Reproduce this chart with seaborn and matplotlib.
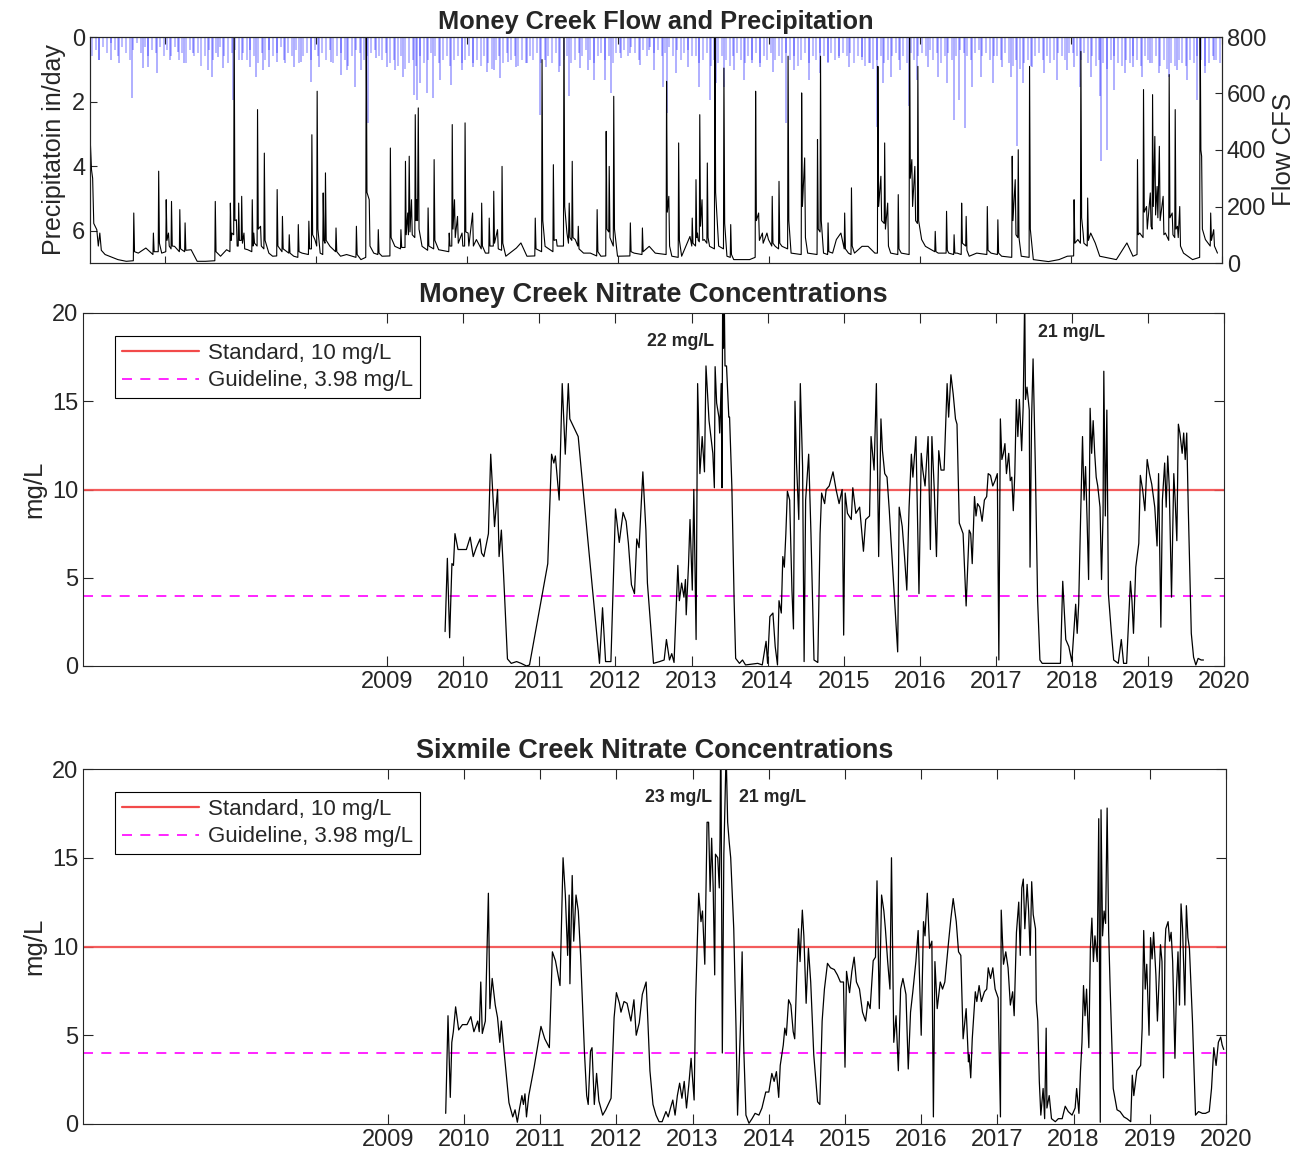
import numpy as np
import pandas as pd
import matplotlib
matplotlib.use("Agg")
import matplotlib.pyplot as plt
import seaborn as sns
from matplotlib.lines import Line2D

sns.set_style("ticks")
plt.rcParams['font.family'] = ['Liberation Sans', 'DejaVu Sans']

# ---- Money Creek daily flow (decimal year, cfs) ----
flow_pts = [
    (2005.00, 454), (2005.02, 330), (2005.035, 300), (2005.05, 140), (2005.09, 118), (2005.11, 60),
    (2005.13, 106), (2005.15, 45), (2005.20, 30), (2005.37, 12), (2005.48, 6),
    (2005.574, 8), (2005.58, 177), (2005.59, 40), (2005.64, 35), (2005.74, 53), (2005.834, 30),
    (2005.84, 106), (2005.85, 40), (2005.904, 40), (2005.91, 325), (2005.92, 70), (2005.95, 35),
    (2006.004, 40), (2006.01, 224), (2006.02, 80), (2006.04, 106), (2006.05, 60), (2006.074, 50),
    (2006.08, 218), (2006.09, 60), (2006.12, 59), (2006.184, 40), (2006.19, 189), (2006.20, 50),
    (2006.254, 40), (2006.26, 142), (2006.27, 45), (2006.34, 47), (2006.42, 6), (2006.53, 6),
    (2006.654, 8), (2006.66, 218), (2006.67, 40), (2006.73, 24), (2006.81, 47), (2006.854, 40),
    (2006.86, 212), (2006.87, 80), (2006.88, 106), (2006.904, 100), (2006.91, 900), (2006.92, 150),
    (2006.94, 153), (2006.95, 60), (2006.964, 60), (2006.97, 212), (2006.98, 80), (2007.004, 80),
    (2007.01, 236), (2007.02, 70), (2007.04, 106), (2007.05, 50), (2007.09, 47),
    (2007.144, 40), (2007.15, 224), (2007.16, 60), (2007.17, 106), (2007.18, 70), (2007.214, 60),
    (2007.22, 543), (2007.23, 120), (2007.26, 130), (2007.27, 60), (2007.304, 50), (2007.31, 389),
    (2007.32, 80), (2007.37, 35), (2007.42, 24), (2007.474, 25), (2007.48, 260), (2007.49, 60),
    (2007.544, 40), (2007.55, 165), (2007.56, 50), (2007.634, 35), (2007.64, 100), (2007.65, 35),
    (2007.70, 24), (2007.754, 20), (2007.76, 136), (2007.77, 40), (2007.81, 35), (2007.894, 30),
    (2007.90, 148), (2007.91, 50), (2007.934, 50), (2007.94, 454), (2007.95, 100), (2007.98, 83),
    (2008.004, 60), (2008.01, 608), (2008.02, 120), (2008.05, 35), (2008.084, 30), (2008.09, 248),
    (2008.10, 80), (2008.114, 70), (2008.12, 319), (2008.13, 80), (2008.18, 59), (2008.254, 40),
    (2008.26, 124), (2008.27, 40), (2008.32, 24), (2008.40, 30), (2008.524, 20), (2008.53, 130),
    (2008.54, 30), (2008.59, 12), (2008.654, 20), (2008.66, 900), (2008.67, 250), (2008.70, 224),
    (2008.71, 60), (2008.76, 35), (2008.814, 30), (2008.82, 118), (2008.83, 35), (2008.87, 24),
    (2008.974, 25), (2008.98, 407), (2008.99, 90), (2009.04, 59), (2009.114, 50), (2009.12, 118),
    (2009.13, 55), (2009.174, 55), (2009.18, 360), (2009.19, 100), (2009.21, 177), (2009.22, 100),
    (2009.23, 378), (2009.24, 110), (2009.26, 224), (2009.27, 100), (2009.304, 90), (2009.31, 525),
    (2009.32, 150), (2009.33, 224), (2009.34, 150), (2009.35, 549), (2009.36, 120), (2009.40, 59),
    (2009.474, 45), (2009.48, 195), (2009.49, 60), (2009.554, 50), (2009.56, 366), (2009.57, 80),
    (2009.62, 47), (2009.754, 40), (2009.76, 106), (2009.77, 60), (2009.794, 60), (2009.80, 490),
    (2009.81, 120), (2009.83, 224), (2009.84, 90), (2009.87, 165), (2009.88, 70), (2009.93, 106),
    (2009.94, 60), (2009.964, 60), (2009.97, 496), (2009.98, 110), (2010.01, 106), (2010.02, 60),
    (2010.07, 177), (2010.08, 60), (2010.12, 83), (2010.184, 50), (2010.19, 212), (2010.20, 60),
    (2010.24, 35), (2010.284, 35), (2010.29, 159), (2010.30, 60), (2010.344, 60), (2010.35, 254),
    (2010.36, 70), (2010.40, 118), (2010.41, 50), (2010.454, 45), (2010.46, 342), (2010.47, 70),
    (2010.51, 24), (2010.65, 53), (2010.71, 71), (2010.79, 24), (2010.894, 25), (2010.90, 159),
    (2010.91, 50), (2010.984, 40), (2010.99, 720), (2011.00, 150), (2011.03, 59), (2011.134, 40),
    (2011.14, 348), (2011.15, 80), (2011.18, 83), (2011.19, 60), (2011.274, 60), (2011.28, 900),
    (2011.29, 200), (2011.32, 106), (2011.34, 70), (2011.35, 212), (2011.36, 90), (2011.384, 80),
    (2011.39, 360), (2011.40, 90), (2011.43, 83), (2011.464, 60), (2011.47, 130), (2011.48, 50),
    (2011.54, 35), (2011.63, 35), (2011.714, 25), (2011.72, 189), (2011.73, 40), (2011.77, 24),
    (2011.834, 25), (2011.84, 466), (2011.85, 120), (2011.874, 110), (2011.88, 342), (2011.89, 90),
    (2011.90, 83), (2011.934, 60), (2011.94, 590), (2011.95, 120), (2011.99, 24), (2012.154, 25),
    (2012.16, 142), (2012.17, 40), (2012.21, 35), (2012.314, 30), (2012.32, 124), (2012.33, 40),
    (2012.41, 59), (2012.49, 35), (2012.634, 30), (2012.64, 643), (2012.65, 180), (2012.67, 236),
    (2012.68, 60), (2012.71, 24), (2012.794, 20), (2012.80, 425), (2012.81, 80), (2012.84, 24),
    (2012.95, 94), (2012.974, 60), (2012.98, 159), (2012.99, 70), (2013.024, 60), (2013.03, 295),
    (2013.04, 90), (2013.05, 106), (2013.06, 80), (2013.074, 75), (2013.08, 525), (2013.09, 130),
    (2013.11, 224), (2013.12, 80), (2013.14, 83), (2013.174, 70), (2013.18, 354), (2013.19, 90),
    (2013.21, 59), (2013.274, 50), (2013.28, 900), (2013.29, 250), (2013.32, 106), (2013.33, 60),
    (2013.394, 50), (2013.40, 690), (2013.41, 140), (2013.44, 24), (2013.484, 20), (2013.49, 136),
    (2013.50, 30), (2013.53, 12), (2013.74, 12), (2013.814, 20), (2013.82, 608), (2013.83, 150),
    (2013.86, 177), (2013.87, 80), (2013.91, 106), (2013.92, 70), (2013.97, 106), (2013.99, 83),
    (2014.034, 60), (2014.04, 236), (2014.05, 70), (2014.08, 59), (2014.124, 50), (2014.13, 289),
    (2014.14, 70), (2014.17, 59), (2014.244, 50), (2014.25, 732), (2014.26, 150), (2014.29, 35),
    (2014.424, 30), (2014.43, 602), (2014.44, 200), (2014.47, 372), (2014.48, 90), (2014.51, 35),
    (2014.634, 30), (2014.64, 437), (2014.65, 120), (2014.674, 110), (2014.68, 732), (2014.69, 150),
    (2014.72, 35), (2014.774, 30), (2014.78, 142), (2014.79, 40), (2014.84, 35), (2014.89, 83),
    (2014.95, 106), (2014.994, 50), (2015.00, 177), (2015.01, 50), (2015.05, 35), (2015.084, 30),
    (2015.09, 266), (2015.10, 60), (2015.13, 35), (2015.23, 59), (2015.31, 59), (2015.40, 35),
    (2015.434, 35), (2015.44, 696), (2015.45, 200), (2015.48, 307), (2015.49, 150), (2015.524, 140),
    (2015.53, 425), (2015.54, 120), (2015.57, 212), (2015.58, 60), (2015.61, 35), (2015.704, 30),
    (2015.71, 242), (2015.72, 50), (2015.75, 35), (2015.854, 30), (2015.86, 900), (2015.87, 300),
    (2015.89, 366), (2015.90, 200), (2015.93, 342), (2015.94, 150), (2015.964, 140), (2015.97, 696),
    (2015.98, 150), (2016.02, 83), (2016.07, 59), (2016.194, 40), (2016.20, 112), (2016.21, 40),
    (2016.24, 35), (2016.344, 35), (2016.35, 183), (2016.36, 45), (2016.38, 35), (2016.444, 30),
    (2016.45, 100), (2016.46, 35), (2016.49, 35), (2016.544, 30), (2016.55, 212), (2016.56, 70),
    (2016.604, 60), (2016.61, 165), (2016.62, 45), (2016.65, 24), (2016.75, 35), (2016.884, 30),
    (2016.89, 200), (2016.90, 45), (2016.94, 35), (2017.024, 30), (2017.03, 153), (2017.04, 35),
    (2017.08, 24), (2017.214, 20), (2017.22, 378), (2017.23, 150), (2017.26, 295), (2017.27, 100),
    (2017.294, 90), (2017.30, 401), (2017.31, 90), (2017.34, 24), (2017.444, 20), (2017.45, 696),
    (2017.46, 120), (2017.50, 12), (2017.70, 5), (2017.84, 12), (2017.95, 24), (2018.034, 25),
    (2018.04, 224), (2018.05, 70), (2018.09, 83), (2018.124, 70), (2018.13, 749), (2018.14, 160),
    (2018.16, 106), (2018.17, 70), (2018.214, 60), (2018.22, 230), (2018.23, 80), (2018.26, 106),
    (2018.32, 71), (2018.38, 24), (2018.60, 12), (2018.74, 71), (2018.82, 24), (2018.874, 30),
    (2018.88, 366), (2018.89, 100), (2018.91, 106), (2018.954, 90), (2018.96, 614), (2018.97, 180),
    (2019.00, 200), (2019.01, 120), (2019.05, 248), (2019.06, 130), (2019.074, 120), (2019.08, 596),
    (2019.09, 200), (2019.11, 448), (2019.12, 170), (2019.14, 271), (2019.15, 160), (2019.17, 413),
    (2019.18, 150), (2019.22, 236), (2019.23, 100), (2019.25, 106), (2019.294, 80), (2019.30, 667),
    (2019.31, 160), (2019.34, 177), (2019.35, 100), (2019.374, 90), (2019.38, 543), (2019.39, 120),
    (2019.41, 130), (2019.42, 90), (2019.44, 200), (2019.45, 60), (2019.49, 35), (2019.61, 12),
    (2019.704, 20), (2019.71, 900), (2019.72, 400), (2019.73, 378), (2019.74, 120), (2019.78, 83),
    (2019.844, 60), (2019.85, 177), (2019.86, 80), (2019.89, 118), (2019.90, 60), (2019.94, 35),
]

# ---- daily precipitation, in/day: the larger storms ----
precip_big = [
    (2005.00, 0.81), (2005.12, 0.71), (2005.28, 0.71), (2005.39, 0.81), (2005.55, 1.90), (2005.70, 0.97),
    (2005.77, 0.92), (2005.89, 1.13), (2006.06, 0.71), (2006.17, 0.45), (2006.24, 0.81), (2006.37, 0.51),
    (2006.56, 1.02), (2006.62, 1.23), (2006.69, 0.61), (2006.76, 0.97), (2006.90, 1.95), (2007.01, 0.71),
    (2007.12, 0.92), (2007.20, 1.23), (2007.29, 1.02), (2007.37, 0.92), (2007.48, 0.76), (2007.59, 0.81),
    (2007.70, 0.92), (2007.79, 0.76), (2007.93, 1.38), (2008.04, 0.92), (2008.20, 0.76), (2008.32, 1.17),
    (2008.40, 1.02), (2008.51, 1.54), (2008.59, 1.02), (2008.68, 2.67), (2008.79, 0.66), (2008.93, 0.92),
    (2009.04, 1.02), (2009.15, 1.23), (2009.29, 1.79), (2009.33, 1.95), (2009.37, 1.43), (2009.46, 1.74),
    (2009.54, 1.90), (2009.64, 1.33), (2009.79, 1.48), (2009.93, 1.02), (2010.07, 0.92), (2010.26, 1.07),
    (2010.35, 1.02), (2010.43, 1.28), (2010.54, 0.76), (2010.65, 0.92), (2010.79, 0.81), (2010.96, 2.41),
    (2011.04, 0.92), (2011.21, 1.07), (2011.35, 1.84), (2011.49, 0.97), (2011.60, 1.02), (2011.68, 1.33),
    (2011.82, 1.33), (2011.90, 1.74), (2012.04, 0.66), (2012.16, 0.51), (2012.29, 0.87), (2012.41, 0.40),
    (2012.48, 1.02), (2012.59, 1.54), (2012.64, 2.36), (2012.76, 1.13), (2012.93, 0.92), (2013.07, 1.54),
    (2013.21, 1.95), (2013.29, 1.43), (2013.40, 1.54), (2013.54, 1.02), (2013.66, 1.33), (2013.77, 0.81),
    (2013.88, 0.92), (2014.05, 1.07), (2014.22, 2.67), (2014.33, 1.02), (2014.53, 1.33), (2014.67, 1.13),
    (2014.78, 0.76), (2014.92, 0.66), (2015.06, 0.92), (2015.23, 0.61), (2015.34, 0.81), (2015.43, 2.78),
    (2015.51, 1.43), (2015.62, 1.23), (2015.73, 1.02), (2015.85, 2.15), (2015.96, 1.33), (2016.10, 0.92),
    (2016.24, 1.23), (2016.35, 1.43), (2016.45, 2.57), (2016.52, 1.95), (2016.59, 2.83), (2016.69, 1.54),
    (2016.80, 1.23), (2016.97, 1.43), (2017.08, 0.92), (2017.21, 1.23), (2017.29, 3.39), (2017.36, 1.43),
    (2017.48, 0.92), (2017.64, 1.13), (2017.81, 1.33), (2017.95, 1.02), (2018.04, 0.92), (2018.12, 1.54),
    (2018.26, 1.23), (2018.38, 1.84), (2018.40, 3.85), (2018.48, 3.49), (2018.57, 1.64), (2018.71, 1.13),
    (2018.82, 0.92), (2018.94, 1.23), (2019.05, 0.81), (2019.16, 1.13), (2019.30, 1.23), (2019.41, 1.02),
    (2019.53, 1.33), (2019.67, 1.95), (2019.78, 1.13), (2019.89, 0.71),
]

# ---- smaller rain days, tenths of an inch, 20 readings per year 2005-2019 ----
precip_small_tenths = [
    6, 4, 7, 3, 5, 2, 4, 6, 3, 5, 7, 4, 2, 5, 3, 6, 4, 5, 3, 6,
    4, 6, 3, 7, 5, 8, 4, 6, 5, 9, 6, 4, 7, 5, 3, 6, 8, 5, 4, 7,
    5, 7, 4, 6, 8, 5, 7, 4, 6, 5, 3, 7, 5, 6, 4, 8, 6, 5, 7, 4,
    6, 5, 7, 4, 8, 6, 5, 7, 9, 6, 4, 5, 7, 6, 5, 4, 6, 7, 5, 8,
    7, 9, 6, 10, 8, 7, 9, 6, 8, 7, 5, 6, 8, 7, 6, 9, 7, 6, 8, 7,
    6, 8, 7, 9, 6, 8, 10, 7, 6, 8, 5, 7, 6, 9, 7, 8, 6, 7, 5, 8,
    7, 6, 8, 5, 9, 7, 6, 8, 7, 5, 6, 4, 7, 8, 6, 5, 7, 6, 8, 5,
    5, 4, 6, 3, 5, 7, 4, 6, 3, 5, 4, 6, 5, 3, 6, 4, 7, 5, 4, 6,
    6, 8, 7, 5, 9, 7, 8, 6, 7, 9, 6, 5, 7, 8, 6, 7, 5, 8, 6, 7,
    5, 7, 6, 8, 5, 7, 6, 9, 7, 5, 8, 6, 7, 5, 6, 8, 5, 7, 6, 5,
    6, 5, 8, 6, 7, 9, 8, 10, 7, 6, 8, 7, 6, 5, 7, 6, 8, 5, 7, 6,
    5, 6, 4, 7, 5, 8, 6, 5, 7, 6, 4, 5, 6, 7, 5, 4, 6, 5, 7, 6,
    6, 7, 5, 8, 9, 7, 10, 8, 7, 9, 6, 5, 7, 6, 8, 7, 5, 6, 7, 5,
    5, 6, 7, 5, 8, 6, 9, 7, 8, 10, 7, 6, 8, 9, 7, 8, 6, 7, 9, 6,
    7, 8, 6, 9, 7, 10, 8, 9, 7, 8, 9, 7, 8, 6, 7, 9, 8, 6, 7, 8,
]

# ---- Money Creek nitrate (decimal year, mg/L) ----
money_pts = [
    (2009.76, 1.95), (2009.79, 6.1), (2009.82, 1.6), (2009.85, 5.8), (2009.87, 5.7), (2009.89, 7.5),
    (2009.93, 6.6), (2009.98, 6.6), (2010.04, 6.6), (2010.09, 7.3), (2010.13, 6.2), (2010.17, 6.7),
    (2010.22, 7.2), (2010.24, 6.4), (2010.27, 6.2), (2010.33, 7.5), (2010.36, 12.0), (2010.41, 7.9),
    (2010.45, 10.0), (2010.47, 6.2), (2010.50, 7.7), (2010.53, 5.1), (2010.58, 0.4), (2010.63, 0.15),
    (2010.70, 0.25), (2010.76, 0.15), (2010.83, 0.0), (2010.87, 0.06), (2011.11, 5.8), (2011.16, 12.0),
    (2011.19, 11.5), (2011.21, 11.9), (2011.26, 9.4), (2011.30, 16.0), (2011.34, 12.0), (2011.38, 16.0),
    (2011.40, 14.0), (2011.51, 13.0), (2011.57, 10.2), (2011.79, 0.15), (2011.83, 3.3), (2011.87, 0.25),
    (2011.94, 0.25), (2012.00, 8.9), (2012.05, 7.0), (2012.10, 8.7), (2012.14, 8.2), (2012.17, 6.95),
    (2012.21, 4.6), (2012.25, 4.1), (2012.28, 7.2), (2012.31, 6.7), (2012.36, 11.0), (2012.40, 7.7),
    (2012.42, 4.7), (2012.50, 0.15), (2012.58, 0.25), (2012.64, 0.34), (2012.67, 1.5), (2012.71, 0.34),
    (2012.74, 0.7), (2012.77, 0.2), (2012.82, 5.7), (2012.84, 3.7), (2012.87, 4.7), (2012.90, 3.9),
    (2012.92, 4.9), (2012.93, 2.9), (2012.96, 5.7), (2012.98, 8.3), (2013.01, 4.3), (2013.03, 10.0),
    (2013.06, 1.5), (2013.08, 16.0), (2013.11, 10.9), (2013.14, 13.0), (2013.17, 11.0), (2013.19, 17.0),
    (2013.23, 13.9), (2013.28, 12.05), (2013.30, 10.1), (2013.31, 16.96), (2013.33, 14.9), (2013.36, 14.1),
    (2013.37, 13.2), (2013.39, 16.0), (2013.40, 10.1), (2013.41, 22.0), (2013.42, 18.0), (2013.43, 21.0),
    (2013.44, 17.0), (2013.46, 17.0), (2013.49, 14.1), (2013.50, 14.1), (2013.53, 10.2), (2013.56, 3.7),
    (2013.58, 0.43), (2013.63, 0.15), (2013.67, 0.34), (2013.71, 0.06), (2013.87, 0.15), (2013.93, 0.06),
    (2013.98, 1.4), (2014.00, 0.15), (2014.03, 2.8), (2014.07, 3.0), (2014.10, 1.1), (2014.13, 0.06),
    (2014.15, 3.7), (2014.18, 3.0), (2014.20, 6.2), (2014.22, 5.6), (2014.24, 7.5), (2014.26, 9.9),
    (2014.29, 9.4), (2014.32, 4.3), (2014.34, 2.1), (2014.36, 15.0), (2014.38, 11.5), (2014.41, 8.3),
    (2014.43, 16.0), (2014.46, 11.3), (2014.48, 0.25), (2014.50, 9.4), (2014.54, 12.0), (2014.57, 7.5),
    (2014.61, 0.34), (2014.66, 0.2), (2014.69, 7.5), (2014.71, 9.8), (2014.75, 9.2), (2014.77, 10.0),
    (2014.81, 10.2), (2014.86, 11.0), (2014.90, 10.0), (2014.94, 9.2), (2014.98, 10.0), (2015.00, 1.75),
    (2015.02, 9.8), (2015.05, 8.65), (2015.10, 8.3), (2015.12, 10.1), (2015.16, 8.65), (2015.21, 9.0),
    (2015.26, 6.5), (2015.29, 8.3), (2015.34, 8.5), (2015.36, 13.0), (2015.40, 11.1), (2015.43, 16.0),
    (2015.46, 6.2), (2015.49, 14.0), (2015.51, 12.2), (2015.54, 10.9), (2015.57, 10.7), (2015.60, 8.8),
    (2015.62, 7.3), (2015.67, 3.7), (2015.71, 0.8), (2015.73, 9.0), (2015.77, 7.9), (2015.80, 6.2),
    (2015.83, 4.3), (2015.86, 9.0), (2015.89, 12.0), (2015.91, 10.7), (2015.95, 13.0), (2015.99, 4.1),
    (2016.02, 12.05), (2016.04, 11.1), (2016.07, 10.2), (2016.11, 13.0), (2016.14, 6.6), (2016.16, 13.0),
    (2016.19, 10.1), (2016.22, 6.2), (2016.25, 12.2), (2016.28, 11.1), (2016.32, 11.1), (2016.36, 16.0),
    (2016.38, 14.1), (2016.41, 16.5), (2016.44, 15.4), (2016.47, 14.0), (2016.49, 13.7), (2016.52, 8.1),
    (2016.57, 7.5), (2016.61, 3.4), (2016.65, 7.7), (2016.67, 7.5), (2016.69, 5.8), (2016.72, 9.6),
    (2016.74, 8.5), (2016.76, 9.2), (2016.79, 9.0), (2016.82, 8.2), (2016.85, 9.4), (2016.88, 9.6),
    (2016.90, 10.9), (2016.93, 10.8), (2016.96, 10.2), (2016.99, 10.5), (2017.02, 10.9), (2017.04, 0.34),
    (2017.06, 14.0), (2017.08, 11.7), (2017.10, 12.05), (2017.12, 12.6), (2017.14, 10.9), (2017.17, 12.05),
    (2017.19, 10.5), (2017.21, 10.7), (2017.23, 8.8), (2017.25, 10.9), (2017.27, 15.1), (2017.29, 13.0),
    (2017.31, 15.1), (2017.34, 12.2), (2017.36, 14.7), (2017.38, 21.0), (2017.39, 15.1), (2017.41, 15.8),
    (2017.44, 14.5), (2017.45, 5.6), (2017.47, 13.9), (2017.49, 17.4), (2017.52, 11.3), (2017.55, 3.7),
    (2017.58, 0.34), (2017.61, 0.15), (2017.70, 0.15), (2017.79, 0.15), (2017.85, 0.15), (2017.88, 4.8),
    (2017.92, 1.5), (2017.96, 1.1), (2018.00, 0.25), (2018.03, 2.2), (2018.05, 3.5), (2018.07, 1.85),
    (2018.09, 3.55), (2018.11, 7.5), (2018.14, 13.0), (2018.16, 9.4), (2018.18, 11.3), (2018.20, 8.3),
    (2018.22, 4.9), (2018.24, 14.6), (2018.26, 12.05), (2018.28, 13.9), (2018.30, 12.05), (2018.32, 10.7),
    (2018.34, 10.2), (2018.37, 9.0), (2018.39, 4.9), (2018.41, 8.65), (2018.42, 16.7), (2018.44, 8.5),
    (2018.46, 14.5), (2018.48, 4.1), (2018.52, 1.85), (2018.55, 0.34), (2018.61, 0.15), (2018.65, 1.5),
    (2018.68, 0.15), (2018.72, 0.15), (2018.77, 4.8), (2018.79, 3.7), (2018.81, 1.85), (2018.84, 5.6),
    (2018.88, 6.95), (2018.90, 10.8), (2018.93, 10.0), (2018.96, 8.8), (2018.99, 11.7), (2019.02, 10.9),
    (2019.05, 10.3), (2019.09, 9.0), (2019.12, 6.8), (2019.14, 10.9), (2019.17, 2.2), (2019.19, 9.4),
    (2019.22, 11.5), (2019.24, 9.0), (2019.26, 11.9), (2019.28, 10.2), (2019.31, 3.9), (2019.34, 10.9),
    (2019.36, 9.2), (2019.38, 7.1), (2019.40, 13.7), (2019.42, 13.2), (2019.45, 12.05), (2019.47, 13.2),
    (2019.49, 11.7), (2019.51, 13.2), (2019.53, 9.0), (2019.57, 1.85), (2019.60, 0.5), (2019.63, 0.06),
    (2019.66, 0.43), (2019.70, 0.34), (2019.73, 0.34),
]

# ---- Sixmile Creek nitrate (decimal year, mg/L) ----
sixmile_pts = [
    (2009.76, 0.6), (2009.79, 6.1), (2009.82, 1.5), (2009.84, 4.6), (2009.86, 5.2), (2009.89, 6.6),
    (2009.93, 5.3), (2009.98, 5.6), (2010.04, 5.6), (2010.09, 6.05), (2010.13, 5.2), (2010.18, 5.8),
    (2010.20, 5.2), (2010.22, 8.0), (2010.24, 5.1), (2010.28, 5.8), (2010.32, 13.0), (2010.34, 6.5),
    (2010.37, 8.2), (2010.41, 6.7), (2010.44, 6.0), (2010.47, 4.6), (2010.49, 5.8), (2010.53, 3.9),
    (2010.59, 1.2), (2010.64, 0.4), (2010.67, 0.8), (2010.70, 0.1), (2010.73, 0.9), (2010.76, 1.6),
    (2010.78, 1.1), (2010.80, 1.7), (2010.82, 0.4), (2010.85, 1.6), (2010.92, 3.2), (2011.01, 5.5),
    (2011.06, 4.8), (2011.12, 4.3), (2011.16, 9.7), (2011.20, 9.2), (2011.26, 7.8), (2011.30, 15.0),
    (2011.33, 12.9), (2011.36, 9.5), (2011.38, 12.9), (2011.39, 7.9), (2011.42, 14.0), (2011.44, 10.3),
    (2011.47, 12.9), (2011.50, 12.0), (2011.53, 9.5), (2011.58, 4.1), (2011.61, 1.6), (2011.63, 1.1),
    (2011.66, 4.1), (2011.68, 4.3), (2011.71, 1.1), (2011.74, 2.85), (2011.77, 1.3), (2011.82, 0.5),
    (2011.86, 0.8), (2011.93, 1.45), (2011.97, 6.0), (2012.00, 7.4), (2012.04, 6.8), (2012.06, 6.3),
    (2012.10, 6.9), (2012.14, 6.8), (2012.19, 5.8), (2012.23, 7.0), (2012.26, 5.0), (2012.30, 5.7),
    (2012.34, 7.3), (2012.39, 8.0), (2012.41, 6.1), (2012.44, 3.0), (2012.48, 1.1), (2012.52, 0.5),
    (2012.56, 0.13), (2012.60, 0.13), (2012.65, 0.7), (2012.68, 0.4), (2012.71, 0.9), (2012.74, 1.35),
    (2012.77, 0.5), (2012.80, 1.6), (2012.83, 2.3), (2012.86, 1.45), (2012.89, 2.4), (2012.92, 0.9),
    (2012.95, 2.2), (2012.98, 3.7), (2013.02, 1.35), (2013.04, 7.0), (2013.08, 13.0), (2013.11, 11.4),
    (2013.13, 12.0), (2013.16, 9.0), (2013.19, 17.0), (2013.21, 17.0), (2013.23, 13.1), (2013.25, 16.1),
    (2013.27, 13.3), (2013.29, 8.4), (2013.30, 15.2), (2013.33, 15.0), (2013.35, 13.3), (2013.36, 16.1),
    (2013.37, 23.0), (2013.39, 4.0), (2013.41, 15.2), (2013.43, 19.1), (2013.44, 21.0), (2013.46, 17.0),
    (2013.48, 15.9), (2013.50, 15.0), (2013.54, 11.0), (2013.57, 5.4), (2013.59, 0.5), (2013.63, 5.8),
    (2013.65, 9.7), (2013.67, 4.45), (2013.70, 0.5), (2013.74, 0.04), (2013.78, 0.3), (2013.82, 0.6),
    (2013.87, 0.5), (2013.91, 0.9), (2013.96, 1.8), (2014.00, 1.8), (2014.04, 2.85), (2014.07, 2.4),
    (2014.10, 2.95), (2014.13, 1.5), (2014.15, 3.3), (2014.19, 4.45), (2014.21, 5.4), (2014.23, 5.0),
    (2014.26, 7.0), (2014.29, 6.7), (2014.32, 5.2), (2014.34, 4.8), (2014.37, 8.8), (2014.39, 11.0),
    (2014.41, 9.15), (2014.44, 12.05), (2014.46, 10.6), (2014.49, 6.8), (2014.52, 9.9), (2014.55, 8.0),
    (2014.59, 3.9), (2014.64, 1.25), (2014.67, 1.1), (2014.70, 5.8), (2014.73, 7.6), (2014.77, 9.05),
    (2014.81, 8.8), (2014.86, 8.7), (2014.90, 8.4), (2014.94, 8.0), (2014.98, 8.0), (2015.00, 3.2),
    (2015.02, 8.6), (2015.06, 7.4), (2015.09, 8.6), (2015.12, 9.4), (2015.15, 8.0), (2015.19, 7.6),
    (2015.23, 6.3), (2015.27, 5.8), (2015.30, 6.9), (2015.33, 6.5), (2015.37, 9.2), (2015.40, 9.4),
    (2015.42, 13.7), (2015.45, 6.5), (2015.48, 12.9), (2015.51, 12.0), (2015.53, 11.0), (2015.56, 9.15),
    (2015.59, 7.6), (2015.61, 15.0), (2015.64, 4.6), (2015.67, 6.1), (2015.70, 3.0), (2015.73, 7.6),
    (2015.76, 8.2), (2015.80, 7.3), (2015.83, 3.1), (2015.86, 6.3), (2015.89, 7.45), (2015.93, 9.15),
    (2015.96, 10.9), (2016.00, 5.0), (2016.03, 11.4), (2016.05, 10.6), (2016.08, 13.0), (2016.11, 9.9),
    (2016.14, 10.3), (2016.16, 0.4), (2016.18, 9.15), (2016.21, 6.5), (2016.25, 8.0), (2016.28, 7.6),
    (2016.31, 8.0), (2016.36, 10.3), (2016.39, 11.6), (2016.42, 12.7), (2016.46, 11.4), (2016.49, 9.7),
    (2016.52, 9.5), (2016.55, 4.8), (2016.59, 6.5), (2016.62, 3.5), (2016.63, 3.9), (2016.65, 2.6),
    (2016.67, 4.8), (2016.71, 7.45), (2016.73, 6.9), (2016.76, 7.8), (2016.79, 6.9), (2016.83, 7.45),
    (2016.86, 7.6), (2016.88, 8.8), (2016.91, 8.2), (2016.94, 8.8), (2016.97, 7.6), (2017.01, 7.1),
    (2017.04, 0.4), (2017.05, 12.05), (2017.08, 9.0), (2017.11, 9.7), (2017.14, 8.8), (2017.17, 6.7),
    (2017.20, 7.45), (2017.22, 6.1), (2017.25, 10.8), (2017.28, 12.5), (2017.30, 9.5), (2017.32, 13.3),
    (2017.34, 13.8), (2017.36, 11.0), (2017.39, 13.5), (2017.41, 12.0), (2017.43, 9.5), (2017.45, 13.65),
    (2017.47, 11.8), (2017.50, 11.0), (2017.51, 6.9), (2017.53, 5.8), (2017.55, 2.4), (2017.57, 0.5),
    (2017.60, 2.0), (2017.62, 0.3), (2017.64, 5.4), (2017.65, 0.9), (2017.68, 1.6), (2017.71, 0.3),
    (2017.76, 0.13), (2017.80, 0.3), (2017.85, 0.3), (2017.89, 1.0), (2017.93, 0.7), (2017.98, 0.5),
    (2018.02, 0.9), (2018.04, 2.0), (2018.07, 0.6), (2018.09, 2.95), (2018.11, 4.6), (2018.13, 7.8),
    (2018.15, 6.1), (2018.17, 7.6), (2018.20, 4.3), (2018.22, 9.9), (2018.24, 11.6), (2018.26, 9.15),
    (2018.28, 10.6), (2018.31, 9.15), (2018.33, 17.2), (2018.35, 0.1), (2018.36, 17.7), (2018.38, 10.6),
    (2018.40, 12.0), (2018.42, 11.3), (2018.44, 17.8), (2018.46, 10.8), (2018.48, 7.6), (2018.50, 4.8),
    (2018.52, 2.0), (2018.57, 0.8), (2018.61, 0.7), (2018.66, 0.4), (2018.70, 0.3), (2018.75, 0.13),
    (2018.77, 2.75), (2018.79, 1.6), (2018.83, 3.0), (2018.88, 3.3), (2018.90, 5.4), (2018.92, 10.9),
    (2018.94, 7.6), (2018.96, 9.0), (2018.99, 5.0), (2019.01, 10.5), (2019.03, 9.3), (2019.05, 10.8),
    (2019.08, 8.4), (2019.10, 5.8), (2019.12, 8.0), (2019.14, 10.1), (2019.16, 9.15), (2019.18, 2.6),
    (2019.20, 10.1), (2019.21, 11.0), (2019.24, 11.4), (2019.26, 10.3), (2019.28, 10.8), (2019.30, 9.15),
    (2019.33, 3.7), (2019.35, 7.6), (2019.37, 9.7), (2019.39, 6.7), (2019.41, 12.4), (2019.43, 11.0),
    (2019.46, 6.7), (2019.48, 12.3), (2019.50, 10.5), (2019.52, 9.9), (2019.56, 5.8), (2019.60, 0.5),
    (2019.64, 0.7), (2019.69, 0.6), (2019.73, 0.6), (2019.78, 0.7), (2019.81, 2.0), (2019.84, 4.3),
    (2019.87, 3.3), (2019.90, 4.6), (2019.93, 4.9), (2019.95, 4.45), (2019.97, 4.2),
]

standard = 10.0
guideline = 3.98
money_notes = [(2012.85, 18.4, "22 mg/L"), (2017.99, 18.9, "21 mg/L")]
sixmile_notes = [(2012.82, 18.4, "23 mg/L"), (2014.05, 18.4, "21 mg/L")]

flow = pd.DataFrame(flow_pts, columns=["year", "cfs"])
rain = pd.DataFrame(precip_big, columns=["year", "inch"])
rain_small = pd.DataFrame({"year": 2005.025 + 0.05 * np.arange(len(precip_small_tenths)),
                           "inch": np.array(precip_small_tenths) / 10.0})
money = pd.DataFrame(money_pts, columns=["year", "no3"])
sixmile = pd.DataFrame(sixmile_pts, columns=["year", "no3"])

ink = "#262626"
red = "#f24a4a"
fig = plt.figure(figsize=(13.16, 11.64), dpi=100)
W, H = 1316, 1164


def box(l, t, r, b):
    return [l / W, 1 - b / H, (r - l) / W, (b - t) / H]


# ---------------- top: flow and precipitation ----------------
ax_p = fig.add_axes(box(90, 37, 1222, 263))
ax_f = ax_p.twinx()
ax_p.vlines(rain_small["year"], 0, rain_small["inch"], color="blue", alpha=0.35, linewidth=1.1)
ax_p.vlines(rain["year"], 0, rain["inch"], color="blue", alpha=0.4, linewidth=1.1)
sns.lineplot(data=flow, x="year", y="cfs", ax=ax_f, color="black", linewidth=0.8,
             estimator=None, legend=False)
ax_p.set_xlim(2005, 2020)
ax_p.set_ylim(7, 0)
ax_p.set_yticks([0, 2, 4, 6])
ax_f.set_ylim(0, 800)
ax_f.set_yticks([0, 200, 400, 600, 800])
ax_p.set_xticks(range(2006, 2021, 2))
ax_p.set_xticklabels([])
ax_p.set_xlabel("")
ax_f.set_xlabel("")
ax_p.set_ylabel("Precipitatoin in/day", fontsize=18, color=ink, labelpad=4)
ax_f.set_ylabel("Flow CFS", fontsize=18.5, color=ink, labelpad=4)
ax_p.set_title("Money Creek Flow and Precipitation", fontsize=18.3, fontweight="bold", pad=5.5)
ax_p.tick_params(axis="both", direction="in", length=5, labelsize=17, colors=ink, top=True)
ax_f.tick_params(axis="y", direction="in", length=5, labelsize=17, colors=ink)
for a in (ax_p, ax_f):
    for s in a.spines.values():
        s.set_color(ink)
        s.set_linewidth(0.8)


# ---------------- nitrate panels ----------------
def nitrate_panel(rect, df, title, notes):
    ax = fig.add_axes(rect)
    ax.axhline(standard, color=red, linewidth=1.6, alpha=0.9, zorder=1)
    ax.axhline(guideline, color="#ff00ff", linewidth=1.2, linestyle=(0, (6, 5)), zorder=1)
    sns.lineplot(data=df, x="year", y="no3", ax=ax, color="black", linewidth=0.9,
                 estimator=None, legend=False, zorder=2)
    ax.set_xlim(2005, 2020)
    ax.set_ylim(0, 20)
    ax.set_xticks(range(2009, 2021))
    ax.set_yticks([0, 5, 10, 15, 20])
    ax.set_xlabel("")
    ax.set_ylabel("mg/L", fontsize=18.5, color=ink)
    ax.set_title(title, fontsize=19.5, fontweight="bold", pad=7.8)
    ax.tick_params(axis="both", direction="in", length=7, labelsize=17, colors=ink,
                   top=True, right=True)
    for s in ax.spines.values():
        s.set_color(ink)
        s.set_linewidth(0.8)
    for x, y, txt in notes:
        ax.text(x, y, txt, ha="center", va="center", fontsize=12.8, fontweight="bold")
    handles = [Line2D([0], [0], color=red, linewidth=1.6),
               Line2D([0], [0], color="#ff00ff", linewidth=1.2, linestyle=(0, (6, 5)))]
    leg = ax.legend(handles, ["Standard, 10 mg/L", "Guideline, 3.98 mg/L"],
                    loc="upper left", bbox_to_anchor=(0.028, 0.935), borderaxespad=0,
                    fontsize=16, handlelength=3.5, handletextpad=0.4, labelspacing=0.3,
                    borderpad=0.3, fancybox=False, framealpha=1, edgecolor="black")
    leg.get_frame().set_linewidth(0.8)
    return ax


nitrate_panel(box(83, 313, 1224, 666), money, "Money Creek Nitrate Concentrations", money_notes)
nitrate_panel(box(83, 769, 1226, 1124), sixmile, "Sixmile Creek Nitrate Concentrations", sixmile_notes)

fig.savefig("out.png", dpi=100)
